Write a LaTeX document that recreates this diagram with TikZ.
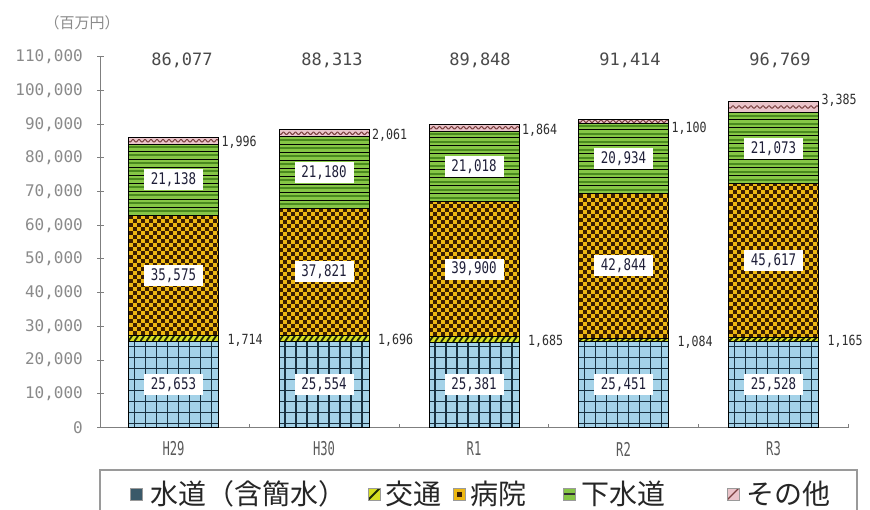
\documentclass[tikz,border=0pt]{standalone}
\usepackage{fontspec}
\usepackage{graphicx}
\newfontfamily\nf{DejaVu Sans Mono}
\newfontfamily\jp{Noto Sans CJK JP}
\definecolor{axisgray}{HTML}{7F7F7F}
\definecolor{labgray}{HTML}{8A8A8A}
\definecolor{totgray}{HTML}{4A4A4A}
\definecolor{catgray}{HTML}{5A5A5A}
\definecolor{inltext}{HTML}{1E1E38}
\definecolor{sidetext}{HTML}{2E2E2E}
\definecolor{watfill}{HTML}{A4D2E8}
\definecolor{watline}{HTML}{17303F}
\definecolor{trfill}{HTML}{D6DE22}
\definecolor{trline}{HTML}{1E2A08}
\definecolor{hosdark}{HTML}{3A1E02}
\definecolor{hosgold}{HTML}{EDB812}
\definecolor{sewfill}{HTML}{86C646}
\definecolor{sewdark}{HTML}{4A8A1E}
\definecolor{othfill}{HTML}{EAC4CA}
\definecolor{othline}{HTML}{7A4040}
\definecolor{legborder}{HTML}{9A9A9A}
\newcommand{\dc}[1]{\expandafter\dcaux#1\relax}
\def\dcaux#1.#2\relax{#1,#2}
\newcommand{\cnd}[2]{\scalebox{#1}[1]{#2}}
\tikzset{
 axisline/.style={draw=axisgray, line width=1pt},
 segline/.style={draw=black, line width=0.8pt},
 watgrid/.style={draw=watline, line width=1.2pt},
 ylab/.style={anchor=east, inner sep=0pt, text=labgray, font=\nf\fontsize{16}{16}\selectfont},
 totlab/.style={inner sep=0pt, text=totgray, font=\nf\fontsize{17}{17}\selectfont},
 catlab/.style={inner sep=0pt, text=catgray, font=\nf\fontsize{19}{19}\selectfont},
 inlab/.style={fill=white, inner sep=0pt, minimum width=59pt, minimum height=21pt, text=inltext, font=\nf\fontsize{16}{16}\selectfont},
 sidelab/.style={anchor=west, inner sep=0pt, text=sidetext, font=\nf\fontsize{14}{14}\selectfont},
 legsq/.style={minimum size=12pt, inner sep=0pt, draw=legborder, line width=0.5pt},
 legtext/.style={anchor=west, inner sep=0pt, text=black!85, font=\jp\fontsize{28}{30}\selectfont},
 legbox/.style={draw=legborder, line width=1.5pt},
 unitlab/.style={inner sep=0pt, text=labgray, font=\jp\fontsize{15}{15}\selectfont},
}
\newcommand{\drawstack}[8]{%
 \pgfmathsetmacro{\xl}{#2-45}
 \pgfmathsetmacro{\xr}{#2+45}
 \pgfmathsetmacro{\ya}{427.5}
 \pgfmathsetmacro{\yb}{\ya-#3*3.37}
 \pgfmathsetmacro{\yc}{\yb-#4*3.37}
 \pgfmathsetmacro{\yd}{\yc-#5*3.37}
 \pgfmathsetmacro{\ye}{\yd-#6*3.37}
 \pgfmathsetmacro{\yf}{\ye-#7*3.37}
 % water
 \begin{scope}
  \clip (\xl,\yb) rectangle (\xr,\ya);
  \fill[watfill] (\xl,\yb) rectangle (\xr,\ya);
  \foreach \i in {0,...,8} \draw[watgrid] (\xl+6+\i*11,\yb) -- (\xl+6+\i*11,\ya);
  \foreach \j in {0,...,8} \draw[watgrid] (\xl,\ya-4-\j*11) -- (\xr,\ya-4-\j*11);
 \end{scope}
 % transport
 \begin{scope}
  \clip (\xl,\yc) rectangle (\xr,\yb);
  \fill[trfill] (\xl,\yc) rectangle (\xr,\yb);
  \foreach \i in {0,...,15} \draw[trline, line width=1.8pt] (\xl+\i*6,\yb) -- (\xl+\i*6+4,\yc);
 \end{scope}
 % hospital
 \begin{scope}
  \clip (\xl,\yd) rectangle (\xr,\yc);
  \fill[hosdark] (\xl,\yd) rectangle (\xr,\yc);
  \foreach \j in {0,...,39} {
   \pgfmathsetmacro{\ph}{mod(\j,2)*4}
   \draw[hosgold, line width=4pt, dash pattern=on 4pt off 4pt, dash phase={\ph pt}] (\xl,\yc-2-\j*4) -- (\xr,\yc-2-\j*4);
  }
 \end{scope}
 % sewer
 \begin{scope}
  \clip (\xl,\ye) rectangle (\xr,\yd);
  \fill[sewfill] (\xl,\ye) rectangle (\xr,\yd);
  \foreach \j in {0,...,9} {
   \draw[black, line width=0.9pt] (\xl,\yd-\j*8) -- (\xr,\yd-\j*8);
   \draw[sewdark, line width=1.8pt] (\xl,\yd-4-\j*8) -- (\xr,\yd-4-\j*8);
  }
 \end{scope}
 % other
 \begin{scope}
  \clip (\xl,\yf) rectangle (\xr,\ye);
  \fill[othfill] (\xl,\yf) rectangle (\xr,\ye);
  \pgfmathsetmacro{\ym}{(\ye+\yf)/2}
  \draw[othline, line width=1pt] plot[domain=0:90, samples=91] ({\xl+\x},{\ym+1.3*sin(\x*60)});
 \end{scope}
 \draw[segline] (\xl,\ya) rectangle (\xr,\yf);
 \foreach \yy in {\yb,\yc,\yd,\ye} \draw[segline] (\xl,\yy) -- (\xr,\yy);
 \node[inlab] (w#1) at (#2,{(\ya+\yb)/2}) {\cnd{0.78}{\dc{#3}}};
 \node[inlab] (h#1) at (#2,{(\yc+\yd)/2}) {\cnd{0.78}{\dc{#5}}};
 \node[inlab] (s#1) at (#2,{(\yd+\ye)/2}) {\cnd{0.78}{\dc{#6}}};
 \node[sidelab] (t#1) at (\xr+9,{(\yb+\yc)/2+2}) {\cnd{0.83}{\dc{#4}}};
 \node[sidelab] (o#1) at (\xr+3,#8) {\cnd{0.83}{\dc{#7}}};
}
\begin{document}
\begin{tikzpicture}[x=1pt,y=-1pt]
\useasboundingbox (0,0) rectangle (870,510);
\fill[white] (0,0) rectangle (870,510);
% unit
\node[unitlab] (unit) at (82,23) {（百万円）};
% axes
\draw[axisline] (100,57) -- (100,427.5) -- (848,427.5);
\foreach \k in {0,...,11} {
 \pgfmathsetmacro{\yy}{427.5-\k*33.7}
 \draw[axisline] (97,\yy) -- (104,\yy);
}
\node[ylab] (yl0) at (83,427.5) {0};
\foreach \k in {1,...,11} {
 \pgfmathsetmacro{\yy}{427.5-\k*33.7}
 \node[ylab] (yl\k) at (83,\yy) {\k0,000};
}
\foreach \xx in {249.6,399.2,548.8,698.4,848} \draw[axisline] (\xx,427.5) -- (\xx,423.5);
% bars
\drawstack{1}{173.5}{25.653}{1.714}{35.575}{21.138}{1.996}{142}
\drawstack{2}{324}{25.554}{1.696}{37.821}{21.180}{2.061}{135}
\drawstack{3}{474}{25.381}{1.685}{39.900}{21.018}{1.864}{130}
\drawstack{4}{623.5}{25.451}{1.084}{42.844}{20.934}{1.100}{128}
\drawstack{5}{773.5}{25.528}{1.165}{45.617}{21.073}{3.385}{100}
% totals
\foreach \xx/\c [count=\n] in {182/86.077,332/88.313,480/89.848,630/91.414,780/96.769}
 \node[totlab] (tot\n) at (\xx,60) {\dc{\c}};
% categories
\foreach \xx/\c [count=\n] in {173.5/H29,324/H30,474/R1,623.5/R2,773.5/R3}
 \node[catlab] (cat\n) at (\xx,449) {\cnd{0.64}{\c}};
% legend
\draw[legbox] (100,515) -- (100,470) -- (857,470) -- (857,515);
\node[legsq, fill=watline!75!watfill] (lq1) at (136,494) {};
\node[legtext] (lt1) at (150,494) {水道（含簡水）};
\node[legsq, fill=trfill, path picture={\draw[trline, line width=2pt] (path picture bounding box.south west) -- (path picture bounding box.north east);}] (lq2) at (374,494) {};
\node[legtext] (lt2) at (385,494) {交通};
\node[legsq, fill=hosgold, path picture={\fill[hosdark] ([shift={(-2.5pt,-2.5pt)}]path picture bounding box.center) rectangle ([shift={(2.5pt,2.5pt)}]path picture bounding box.center);}] (lq3) at (459,494) {};
\node[legtext] (lt3) at (470,494) {病院};
\node[legsq, fill=sewfill, path picture={\draw[black!80, line width=2pt] (path picture bounding box.west) -- (path picture bounding box.east);}] (lq4) at (569,494) {};
\node[legtext] (lt4) at (581,494) {下水道};
\node[legsq, fill=othfill, path picture={\draw[othline, line width=1.2pt] (path picture bounding box.south west) -- (path picture bounding box.north east);}] (lq5) at (733,494) {};
\node[legtext] (lt5) at (746,494) {その他};
\end{tikzpicture}
\end{document}
